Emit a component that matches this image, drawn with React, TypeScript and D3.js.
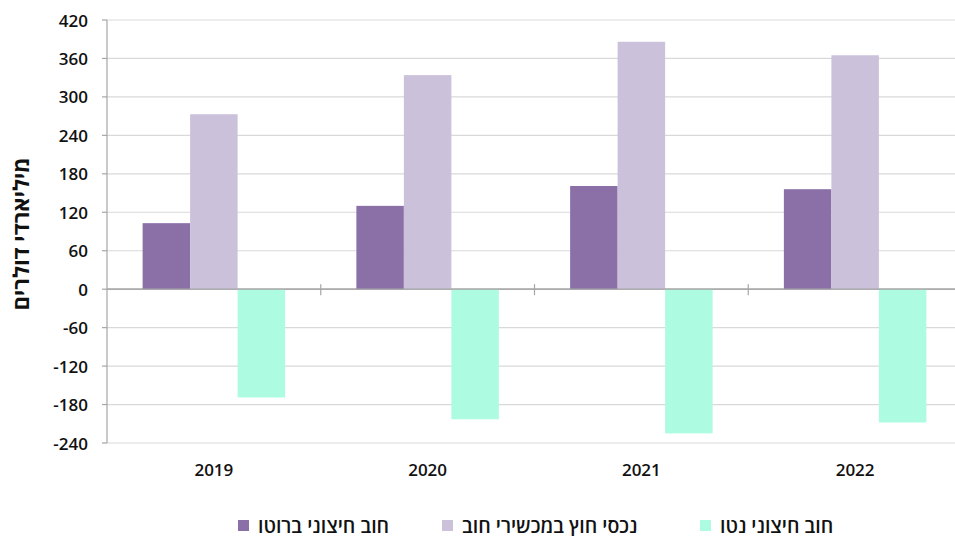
import React from "react";
import * as d3 from "d3";

const years = ["2019", "2020", "2021", "2022"];
const seriesNames = ["חוב חיצוני ברוטו", "נכסי חוץ במכשירי חוב", "חוב חיצוני נטו"];
const grossDebt = [103, 130, 161, 156];
const debtAssets = [273, 334, 386, 365];
const netDebt = [-169, -203, -225, -208];
const seriesColors = ["#8b70a8", "#cbc1db", "#adfce2"];
const yTicks = [420, 360, 300, 240, 180, 120, 60, 0, -60, -120, -180, -240];
const yTitle = "מיליארדי דולרים";

const W = 955;
const H = 536;
const left = 107;
const right = 962;
const top = 20;
const bottom = 443;
const font = "'Open Sans', 'DejaVu Sans', sans-serif";

export default function App() {
  const values = [grossDebt, debtAssets, netDebt];
  const x = d3.scaleBand<string>().domain(years).range([left, right]).paddingInner(0).paddingOuter(0);
  const xs = d3
    .scaleBand<number>()
    .domain([0, 1, 2])
    .range([0, x.bandwidth()])
    .paddingInner(0)
    .paddingOuter(0.75);
  const y = d3.scaleLinear().domain([-240, 420]).range([bottom, top]);
  const y0 = y(0);

  const legendItems = [
    { i: 0, sx: 238 },
    { i: 1, sx: 442 },
    { i: 2, sx: 700 },
  ];

  return (
    <svg
      width={W}
      height={H}
      style={{ position: "absolute", left: 0, top: 0, background: "#fff" }}
      fontFamily={font}
    >
      {yTicks.map((t) => (
        <line
          key={"g" + t}
          x1={left}
          x2={W}
          y1={y(t)}
          y2={y(t)}
          stroke={t === 0 ? "#a6a6a6" : "#d9d9d9"}
          strokeWidth={1.2}
        />
      ))}
      {years.map((yr, ci) =>
        values.map((vals, si) => {
          const v = vals[ci];
          const bx = (x(yr) as number) + (xs(si) as number);
          return (
            <rect
              key={yr + si}
              x={bx}
              y={Math.min(y(v), y0)}
              width={xs.bandwidth()}
              height={Math.abs(y(v) - y0)}
              fill={seriesColors[si]}
            />
          );
        })
      )}
      <line x1={left} x2={W} y1={y0} y2={y0} stroke="#a6a6a6" strokeWidth={1.2} />
      {years.slice(1).map((yr) => (
        <line
          key={"ct" + yr}
          x1={x(yr) as number}
          x2={x(yr) as number}
          y1={y0 - 5}
          y2={y0 + 6}
          stroke="#a6a6a6"
          strokeWidth={1.2}
        />
      ))}
      <line x1={left} x2={left} y1={top} y2={bottom} stroke="#a6a6a6" strokeWidth={1.2} />
      {yTicks.map((t) => (
        <g key={"yt" + t}>
          <line x1={left - 5} x2={left} y1={y(t)} y2={y(t)} stroke="#a6a6a6" strokeWidth={1.2} />
          <text
            x={88}
            y={y(t)}
            textAnchor="end"
            dominantBaseline="central"
            fontSize={17}
            fontWeight={600}
            fill="#111"
          >
            {t < 0 ? "-" + Math.abs(t) : t}
          </text>
        </g>
      ))}
      <text
        transform={`translate(19.5, 234) rotate(-90)`}
        textAnchor="middle"
        dominantBaseline="central"
        fontSize={22}
        fontWeight="bold"
        fill="#111"
      >
        {yTitle}
      </text>
      {years.map((yr) => (
        <text
          key={"xl" + yr}
          x={(x(yr) as number) + x.bandwidth() / 2}
          y={469.5}
          textAnchor="middle"
          dominantBaseline="central"
          fontSize={17}
          fontWeight={600}
          fill="#111"
        >
          {yr}
        </text>
      ))}
      {legendItems.map((li) => (
        <g key={"lg" + li.i}>
          <rect x={li.sx} y={520} width={11} height={11} fill={seriesColors[li.i]} />
          <text
            x={li.sx + 20}
            y={533}
            textAnchor="start"
            fontSize={19.5}
            fontWeight={600}
            fill="#111"
          >
            {seriesNames[li.i]}
          </text>
        </g>
      ))}
    </svg>
  );
}
